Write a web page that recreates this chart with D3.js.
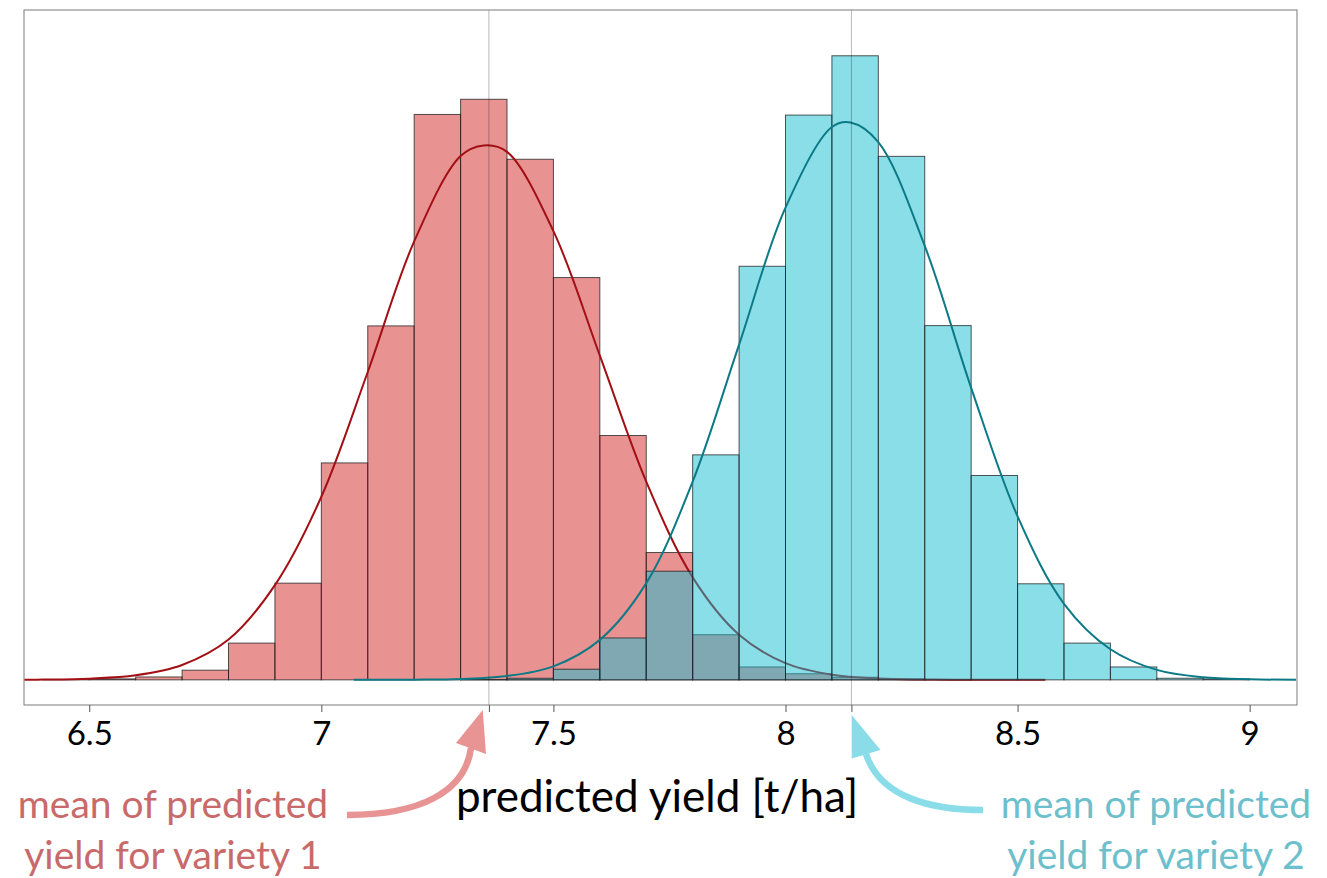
<!DOCTYPE html>
<html>
<head>
<meta charset="utf-8">
<script src="https://cdn.jsdelivr.net/npm/d3@7"></script>
<style>
  body { margin: 0; background: #fff; }
  svg { display: block; }
</style>
</head>
<body>
<div id="chart"></div>
<script>
// histogram bins (left edge, width 0.1 t/ha)
var binStarts = [6.4, 6.5, 6.6, 6.7, 6.8, 6.9, 7.0, 7.1, 7.2, 7.3, 7.4, 7.5, 7.6, 7.7,
                 7.8, 7.9, 8.0, 8.1, 8.2, 8.3, 8.4, 8.5, 8.6, 8.7, 8.8, 8.9, 9.0];
var variety1Counts = [1, 3, 9, 30, 114, 300, 673, 1098, 1754, 1801, 1615, 1248, 758, 395,
                      140, 40, 19, 8, 3, 1, 0, 0, 0, 0, 0, 0, 0];
var variety2Counts = [0, 0, 0, 0, 0, 0, 0, 0, 0, 1, 5, 33, 130, 337,
                      698, 1283, 1752, 1936, 1624, 1099, 634, 298, 114, 40, 5, 3, 0];

// fitted density curves (same units as the counts)
var curve1X = [6.36, 6.4, 6.5, 6.6, 6.7, 6.8, 6.9, 7.0, 7.1, 7.2, 7.3, 7.35, 7.4, 7.5, 7.6,
               7.7, 7.8, 7.9, 8.0, 8.1, 8.2, 8.3, 8.4, 8.5, 8.56];
var curve1Y = [0.4, 0.8, 3.8, 14, 46, 125, 294, 568, 955, 1360, 1625, 1658, 1638, 1392, 1006,
               615, 318, 140, 52, 16, 4, 1, 0.2, 0, 0];
var curve2X = [7.07, 7.1, 7.2, 7.3, 7.4, 7.5, 7.6, 7.7, 7.8, 7.9, 8.0, 8.1, 8.14, 8.2, 8.3,
               8.4, 8.5, 8.6, 8.7, 8.8, 8.9, 9.0, 9.1];
var curve2Y = [0, 0.1, 0.6, 2.8, 12, 42, 124, 300, 615, 1040, 1465, 1715, 1729, 1668, 1346,
               906, 507, 236, 95, 31, 8, 1.8, 0.3];

var means = [7.361, 8.142];
var xTicks = [6.5, 7, 7.5, 8, 8.5, 9];
var binWidth = 0.1;

(function() {
  var W = 1327, H = 878;
  var plotL = 24, plotR = 1297, plotT = 10, plotB = 705;

  var svg = d3.select("#chart").append("svg")
    .attr("width", W)
    .attr("height", H);

  var x = d3.scaleLinear().domain([6.3594, 9.102]).range([plotL, plotR]);
  var y = d3.scaleLinear().domain([-78, 2078]).range([plotB, plotT]);

  var font = "Lato, 'Open Sans', sans-serif";

  function drawBars(counts, fill) {
    var data = binStarts.map(function(b, i) { return {x0: b, n: counts[i]}; })
      .filter(function(d) { return d.n > 0; });
    svg.append("g").selectAll("rect")
      .data(data)
      .enter().append("rect")
      .attr("x", function(d) { return x(d.x0); })
      .attr("width", function(d) { return x(d.x0 + binWidth) - x(d.x0); })
      .attr("y", function(d) { return y(d.n); })
      .attr("height", function(d) { return y(0) - y(d.n); })
      .style("fill", fill)
      .style("stroke", "rgba(30,30,30,0.75)")
      .style("stroke-width", 1);
  }

  function drawCurve(xs, ys, color) {
    var pts = xs.map(function(v, i) { return [v, ys[i]]; });
    var line = d3.line()
      .x(function(d) { return x(d[0]); })
      .y(function(d) { return y(d[1]); })
      .curve(d3.curveCatmullRom.alpha(0.5));
    svg.append("path")
      .datum(pts)
      .attr("d", line)
      .style("fill", "none")
      .style("stroke", color)
      .style("stroke-width", 2);
  }

  drawBars(variety1Counts, "rgba(209,37,37,0.5)");
  drawCurve(curve1X, curve1Y, "#a20f14");
  drawBars(variety2Counts, "rgba(21,189,209,0.5)");
  drawCurve(curve2X, curve2Y, "#0c7a86");

  // mean lines
  svg.append("g").selectAll("line")
    .data(means)
    .enter().append("line")
    .attr("x1", function(d) { return x(d); })
    .attr("x2", function(d) { return x(d); })
    .attr("y1", plotT)
    .attr("y2", plotB)
    .style("stroke", "rgba(0,0,0,0.28)")
    .style("stroke-width", 1);

  // frame
  svg.append("rect")
    .attr("x", plotL)
    .attr("y", plotT)
    .attr("width", plotR - plotL)
    .attr("height", plotB - plotT)
    .style("fill", "none")
    .style("stroke", "#7a7a7a")
    .style("stroke-width", 1);

  // x axis
  var axis = svg.append("g")
    .attr("transform", "translate(0," + plotB + ")")
    .call(d3.axisBottom(x).tickValues(xTicks.concat(means)).tickSize(7).tickPadding(10)
      .tickFormat(function(d) { return xTicks.indexOf(d) >= 0 ? d : ""; }));
  axis.select(".domain").remove();
  axis.selectAll(".tick line").style("stroke", "#555");
  axis.selectAll("text")
    .style("font-family", font)
    .style("font-size", "33px")
    .style("fill", "#000");

  svg.append("text")
    .attr("x", 657)
    .attr("y", 812)
    .attr("text-anchor", "middle")
    .style("font-family", font)
    .style("font-size", "44px")
    .style("fill", "#000")
    .text("predicted yield [t/ha]");

  // annotations
  var notes = [
    {cx: 173, color: "#c96a6a", lines: ["mean of predicted", "yield for variety 1"]},
    {cx: 1156, color: "#6cc0cc", lines: ["mean of predicted", "yield for variety 2"]}
  ];
  notes.forEach(function(n) {
    svg.append("g").selectAll("text")
      .data(n.lines)
      .enter().append("text")
      .attr("x", n.cx)
      .attr("y", function(d, i) { return 818 + i * 51; })
      .attr("text-anchor", "middle")
      .style("font-family", font)
      .style("font-size", "39px")
      .style("fill", n.color)
      .text(function(d) { return d; });
  });

  // curved arrows pointing at the means
  var arrows = [
    {path: "M347,815 C420,815 465,792 471,748", head: [[482.7,710],[456,743],[486,754]], color: "#e89494"},
    {path: "M983,810 C930,810 880,797 866,754", head: [[851.7,715],[851.7,758.5],[880.5,750]], color: "#8adde8"}
  ];
  arrows.forEach(function(a) {
    svg.append("path")
      .attr("d", a.path)
      .style("fill", "none")
      .style("stroke", a.color)
      .style("stroke-width", 6.5);
    svg.append("polygon")
      .attr("points", a.head.map(function(p) { return p.join(","); }).join(" "))
      .style("fill", a.color);
  });
})();
</script>
</body>
</html>
